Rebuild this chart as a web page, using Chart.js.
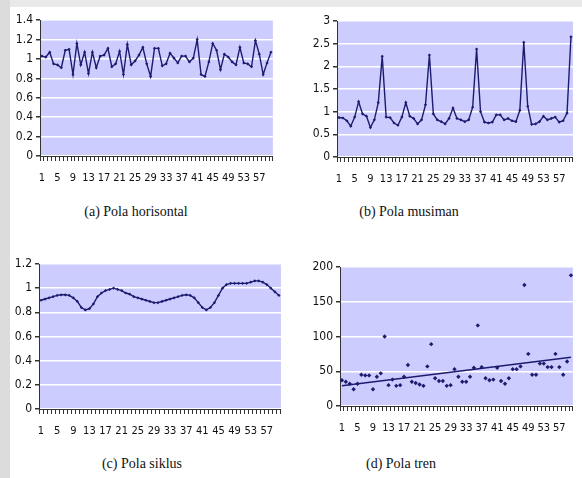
<!DOCTYPE html>
<html>
<head>
<meta charset="utf-8">
<script src="https://cdn.jsdelivr.net/npm/chart.js@4.4.1/dist/chart.umd.min.js"></script>
<style>
  body { margin: 0; width: 582px; height: 478px; background: #fff; position: relative; overflow: hidden; }
  #strip { position: absolute; left: 0; top: 0; width: 10px; height: 478px; background: #dcdcdc; }
  #band { position: absolute; left: 0; top: 0; width: 582px; height: 7px; background: #e9e9e9; }
  canvas { position: absolute; }
  .cap { position: absolute; font-family: 'Liberation Serif', 'Times New Roman', serif; font-size: 14px; color: #111; transform: translateX(-50%); white-space: nowrap; }
</style>
</head>
<body>
<div id="band"></div>
<div id="strip"></div>
<canvas id="cA" style="left:10px;top:10px" width="272" height="180"></canvas>
<canvas id="cB" style="left:291px;top:10px" width="291" height="180"></canvas>
<canvas id="cC" style="left:10px;top:250px" width="280" height="195"></canvas>
<canvas id="cD" style="left:291px;top:250px" width="291" height="195"></canvas>
<div class="cap" style="left:136px;top:204px">(a) Pola horisontal</div>
<div class="cap" style="left:409px;top:204px">(b) Pola musiman</div>
<div class="cap" style="left:142px;top:456px">(c) Pola siklus</div>
<div class="cap" style="left:401px;top:456px">(d) Pola tren</div>
<script>
// periods 1..60
var periods = Array.from({length: 60}, function(_, i){ return String(i + 1); });

// (a) horizontal pattern
var horisontal = [1.03, 1.02, 1.07, 0.95, 0.94, 0.91, 1.09, 1.10, 0.84, 1.16,
                  0.94, 1.07, 0.85, 1.07, 0.91, 1.03, 1.04, 1.11, 0.92, 0.95,
                  1.08, 0.84, 1.15, 0.94, 0.98, 1.04, 1.12, 0.95, 0.82, 1.11,
                  1.11, 0.93, 0.95, 1.06, 1.01, 0.96, 1.03, 1.03, 0.97, 1.01,
                  1.20, 0.84, 0.82, 0.97, 1.16, 1.09, 0.89, 1.05, 1.02, 0.97,
                  0.94, 1.12, 0.96, 0.95, 0.92, 1.19, 1.05, 0.84, 0.96, 1.07];

// (b) seasonal pattern
var musiman = [0.87, 0.86, 0.80, 0.68, 0.88, 1.22, 0.95, 0.90, 0.65, 0.82,
               1.20, 2.22, 0.88, 0.87, 0.75, 0.70, 0.88, 1.20, 0.90, 0.85,
               0.73, 0.82, 1.15, 2.25, 0.95, 0.82, 0.78, 0.73, 0.85, 1.08,
               0.85, 0.82, 0.78, 0.82, 1.10, 2.38, 1.00, 0.77, 0.75, 0.77,
               0.93, 0.93, 0.82, 0.85, 0.80, 0.78, 1.03, 2.53, 1.12, 0.72,
               0.73, 0.78, 0.90, 0.82, 0.85, 0.88, 0.77, 0.80, 0.97, 2.65];

// (c) cyclical pattern
var siklus = [0.90, 0.91, 0.92, 0.93, 0.94, 0.945, 0.945, 0.94, 0.92, 0.89,
              0.84, 0.82, 0.83, 0.87, 0.93, 0.96, 0.98, 0.99, 1.00, 0.99,
              0.98, 0.96, 0.95, 0.93, 0.92, 0.91, 0.90, 0.89, 0.88, 0.88,
              0.89, 0.90, 0.91, 0.92, 0.93, 0.94, 0.945, 0.94, 0.92, 0.88,
              0.84, 0.82, 0.84, 0.88, 0.94, 1.00, 1.03, 1.04, 1.04, 1.04,
              1.04, 1.04, 1.05, 1.06, 1.06, 1.05, 1.03, 1.00, 0.97, 0.94];

// (d) trend pattern
var tren = [37, 35, 32, 24, 32, 45, 44, 44, 24, 42,
            47, 100, 30, 38, 29, 30, 42, 59, 35, 33,
            31, 29, 57, 89, 40, 36, 36, 29, 30, 53,
            42, 35, 35, 42, 55, 116, 56, 40, 37, 38,
            55, 36, 32, 40, 53, 53, 57, 174, 75, 45,
            45, 61, 61, 56, 56, 75, 56, 45, 64, 188];
var trendEnds = [29, 70];   // trend line value at first and last period

var navy = '#1c1c6e';
var fontFam = "'Liberation Sans Narrow', 'DejaVu Sans Condensed', 'Liberation Sans', Arial, sans-serif";

var plotBg = {
  id: 'plotBg',
  beforeDraw: function(chart){
    var a = chart.chartArea, ctx = chart.ctx;
    ctx.save();
    ctx.fillStyle = '#ccccff';
    ctx.fillRect(a.left, a.top, a.width, a.height);
    ctx.restore();
  }
};

function makeChart(id, datasets, yMax, yStep, yW, xH, pad){
  return new Chart(document.getElementById(id), {
    type: 'line',
    data: { labels: periods, datasets: datasets },
    plugins: [plotBg],
    options: {
      responsive: false,
      animation: false,
      layout: { padding: pad },
      plugins: { legend: { display: false }, tooltip: { enabled: false } },
      scales: {
        x: {
          type: 'category',
          offset: true,
          afterFit: function(s){ s.height = xH; },
          grid: { offset: true, drawOnChartArea: false, tickLength: 5, tickColor: '#333' },
          border: { color: '#333' },
          ticks: {
            autoSkip: false, maxRotation: 0, minRotation: 0, padding: 11,
            color: '#111', font: { family: fontFam, size: 11 },
            callback: function(v, i){ return i % 4 === 0 ? this.getLabelForValue(v) : ''; }
          }
        },
        y: {
          min: 0, max: yMax,
          afterFit: function(s){ s.width = yW; },
          grid: { color: '#ffffff', lineWidth: 1.5, tickLength: 4, tickColor: '#333' },
          border: { color: '#333' },
          ticks: {
            stepSize: yStep, color: '#111', font: { family: fontFam, size: 12 }, padding: 3,
            callback: function(v){ return String(Math.round(v * 100) / 100); }
          }
        }
      }
    }
  });
}

function lineSet(values){
  return {
    data: values, borderColor: navy, borderWidth: 1.4, tension: 0,
    pointStyle: 'rectRot', pointRadius: 1.6, pointBackgroundColor: navy, pointBorderWidth: 0
  };
}

// canvas heights include room below the x axis for labels
makeChart('cA', [lineSet(horisontal)], 1.4, 0.2, 30, 34, { top: 9, right: 7 });
makeChart('cB', [lineSet(musiman)], 3, 0.5, 46, 33, { top: 11, right: 4 });
makeChart('cC', [lineSet(siklus)], 1.2, 0.2, 29, 36, { top: 14, right: 8 });

var trendData = periods.map(function(){ return null; });
trendData[0] = trendEnds[0];
trendData[trendData.length - 1] = trendEnds[1];

makeChart('cD', [
  { data: tren, showLine: false, pointStyle: 'rectRot', pointRadius: 2.2,
    pointBackgroundColor: navy, pointBorderWidth: 0 },
  { data: trendData, spanGaps: true, borderColor: navy, borderWidth: 1.5,
    pointRadius: 0, tension: 0 }
], 200, 50, 49, 39, { top: 17, right: 5 });
</script>
</body>
</html>
